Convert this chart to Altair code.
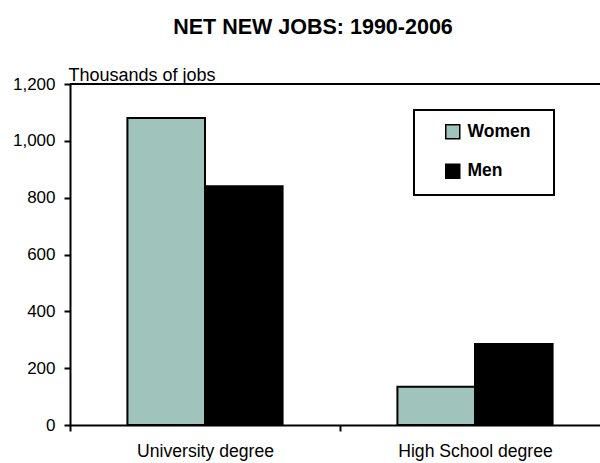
import altair as alt
import pandas as pd

categories = ["University degree", "High School degree"]
groups = ["Women", "Men"]
women = [1080, 135]
men = [840, 285]
y_ticks = [0, 200, 400, 600, 800, 1000, 1200]
colors = ["#A0C3BC", "#000000"]

rows = []
for c, w, m in zip(categories, women, men):
    rows.append({"category": c, "group": "Women", "value": w})
    rows.append({"category": c, "group": "Men", "value": m})
df = pd.DataFrame(rows)
top_df = pd.DataFrame({"v": [y_ticks[-1]]})

FONT = "Liberation Sans"
NBSP = "\u00a0"

bars = alt.Chart(df).mark_bar(stroke="black", strokeWidth=2).encode(
    x=alt.X(
        "category:N",
        sort=categories,
        scale=alt.Scale(range=[0, 540], paddingInner=0, paddingOuter=0),
        axis=alt.Axis(
            title=None, labelAngle=0, tickBand="extent", labelFont=FONT,
            labelFontSize=17.6, labelColor="black", labelPadding=11,
            tickSize=6, tickWidth=2, tickColor="black",
            domainColor="black", domainWidth=2,
        ),
    ),
    xOffset=alt.XOffset(
        "group:N", sort=groups,
        scale=alt.Scale(paddingOuter=0.74, paddingInner=0),
    ),
    y=alt.Y(
        "value:Q",
        scale=alt.Scale(domain=[0, 1200]),
        axis=alt.Axis(
            values=y_ticks, format=",d", grid=False,
            title="Thousands of jobs", titleAngle=0, titleAlign="left",
            titleX=-2, titleY=-4, titleBaseline="alphabetic",
            titleFont=FONT, titleFontSize=18, titleFontWeight="normal",
            titleColor="black",
            labelFont=FONT, labelFontSize=17, labelColor="black",
            labelPadding=9, tickSize=6, tickWidth=2, tickColor="black",
            domainColor="black", domainWidth=2,
        ),
    ),
    color=alt.Color(
        "group:N", sort=groups,
        scale=alt.Scale(domain=groups, range=colors),
        legend=alt.Legend(
            title=NBSP, titleOrient="right", titlePadding=11,
            titleFontSize=4,
            orient="none", legendX=344, legendY=26,
            symbolType="square", symbolSize=196,
            symbolStrokeColor="black", symbolStrokeWidth=1.5,
            labelFont=FONT, labelFontSize=17.5, labelFontWeight="bold",
            labelColor="black", strokeColor="black", padding=13,
            symbolOffset=17, rowPadding=18.5, labelOffset=6,
        ),
    ),
)

top_rule = alt.Chart(top_df).mark_rule(color="black", strokeWidth=2).encode(
    y=alt.Y("v:Q")
)

chart = alt.layer(bars, top_rule).properties(
    width=530,
    height=341,
    autosize=alt.AutoSizeParams(type="none"),
    padding={"left": 70, "top": 84, "right": 0, "bottom": 38},
    title=alt.TitleParams(
        "NET NEW JOBS: 1990-2006", font=FONT, fontSize=21.5,
        fontWeight="bold", color="black", anchor="middle", frame="group",
        dx=-22, offset=28,
    ),
).configure_view(stroke=None).configure_legend(strokeWidth=2)

chart.save("out.html", embed_options={"renderer": "svg", "actions": False})
